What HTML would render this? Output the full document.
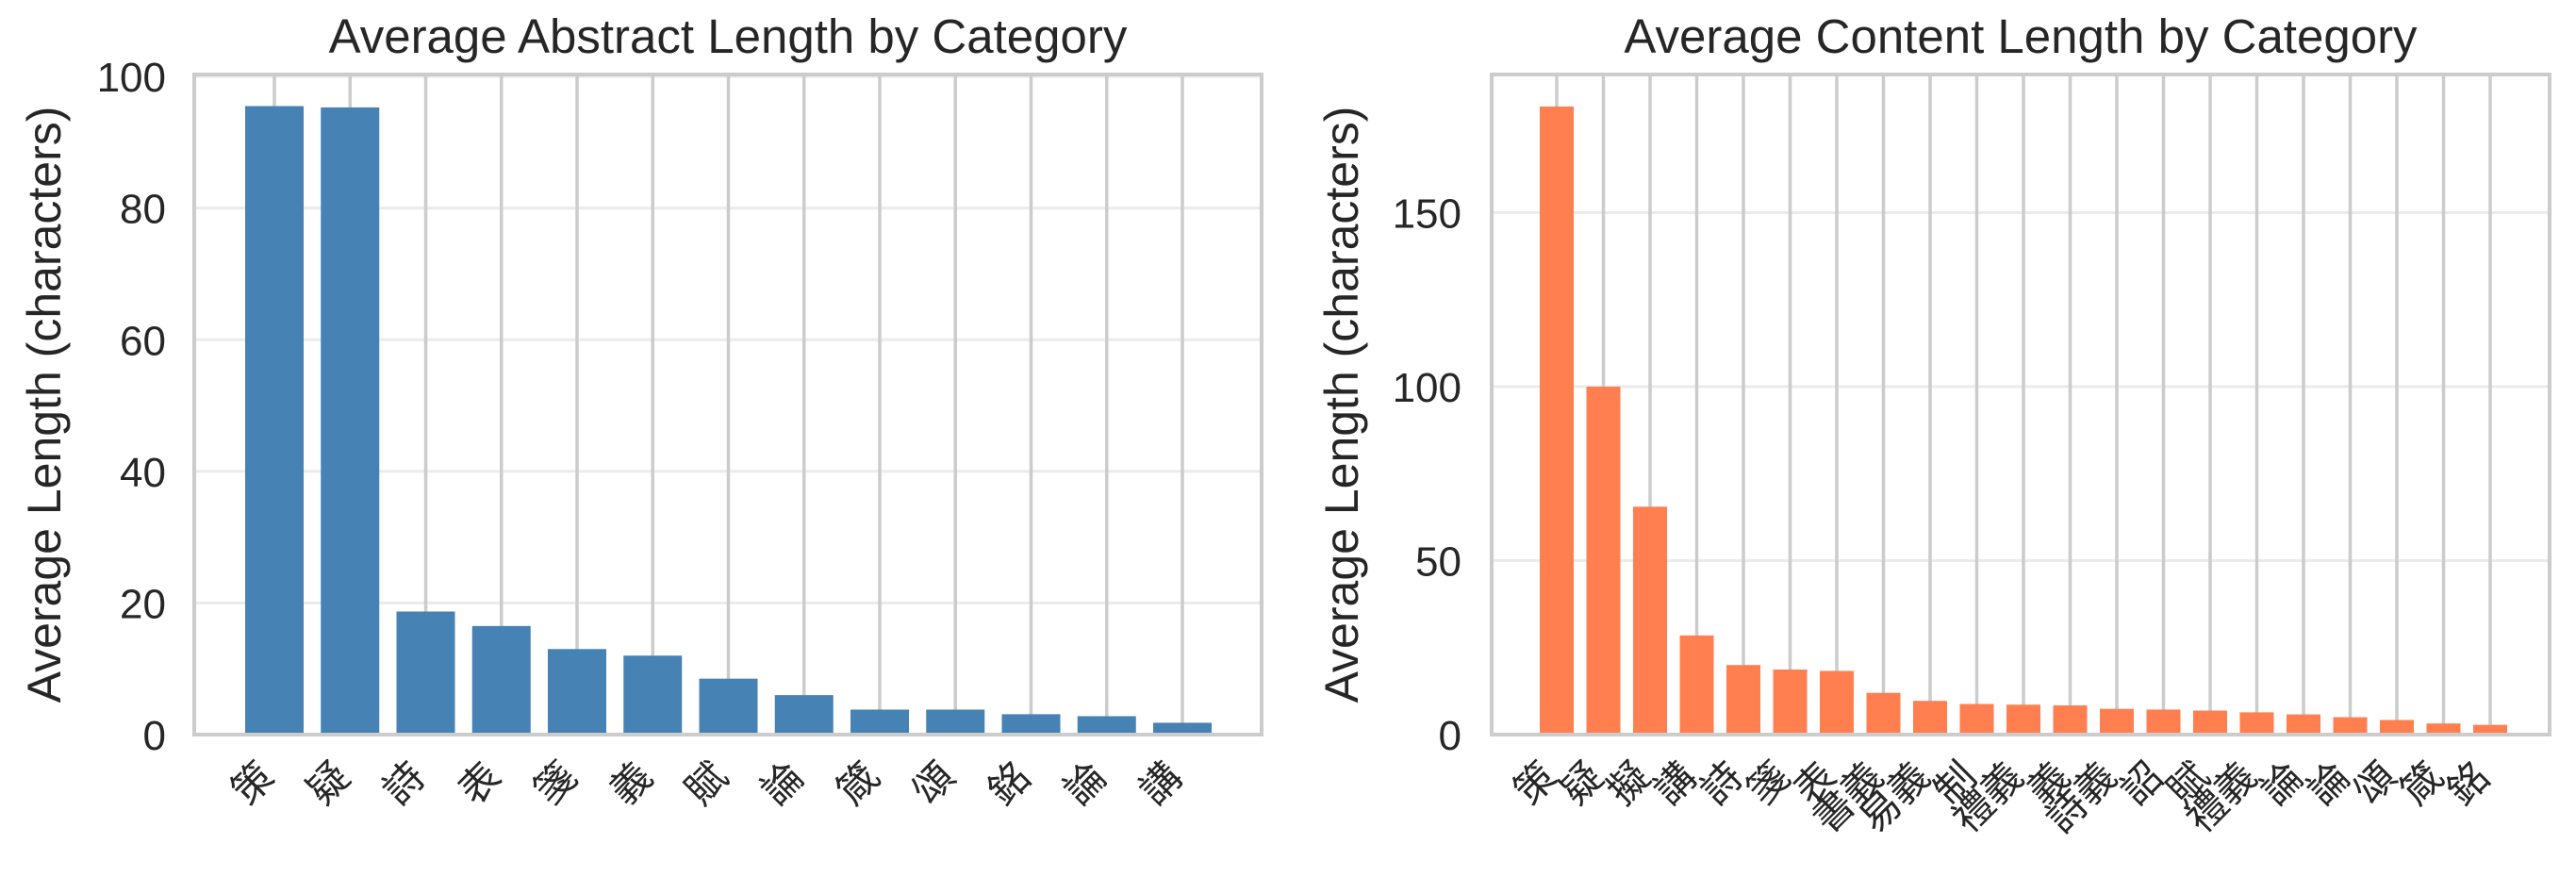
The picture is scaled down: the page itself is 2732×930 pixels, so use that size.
<!DOCTYPE html>
<html><head><meta charset="utf-8">
<style>
html,body{margin:0;padding:0;background:#fff;}
svg{display:block;font-family:"Liberation Sans","Noto Sans CJK TC",sans-serif;}
</style></head>
<body>
<svg id="chart" width="2732" height="930" viewBox="0 0 2732 930" xmlns="http://www.w3.org/2000/svg"></svg>
<script>
const leftCategories = ["策","疑","詩","表","箋","義","賦","論","箴","頌","銘","論","講"];
const leftValues = [95.5,95.3,18.7,16.5,13.0,12.0,8.5,6.0,3.8,3.8,3.1,2.8,1.8];
const leftTicks = [0,20,40,60,80,100];
const rightCategories = ["策","疑","擬","講","詩","箋","表","書義","易義","制","禮義","義","詩義","詔","賦","禮義","論","論","頌","箴","銘"];
const rightValues = [180.5,100,65.5,28.5,20,18.7,18.3,12,9.7,8.8,8.6,8.4,7.4,7.2,6.9,6.4,5.8,5.0,4.2,3.2,2.8];
const rightTicks = [0,50,100,150];

const NS="http://www.w3.org/2000/svg";
const svg=document.getElementById('chart');
function mk(tag,attrs,parent){const e=document.createElementNS(NS,tag);for(const k in attrs)e.setAttribute(k,attrs[k]);(parent||svg).appendChild(e);return e;}

function drawPanel(cfg){
  const g=mk('g',{});
  
  
  const {x0,x1,y0,y1,ymax,cats,vals,ticks,color,firstC,lastC,barW}=cfg;
  const n=cats.length;
  const step=(lastC-firstC)/(n-1);
  const xs=i=>firstC+i*step;
  const ys=v=>y1-(v/ymax)*(y1-y0);
  ticks.forEach(t=>{
    const y=ys(t);
    const l=mk('line',{x1:x0,x2:x1,y1:y,y2:y,stroke:'#ebebeb','stroke-width':3},g);
    
    
    const tx=mk('text',{x:cfg.tickX,y:y+16,'text-anchor':'end','font-size':44,fill:'#262626'},g);
    tx.textContent=t;
    
    
  });
  cats.forEach((c,i)=>{
    const l=mk('line',{x1:xs(i),x2:xs(i),y1:y0,y2:y1,stroke:'#cccccc','stroke-width':3.5},g);
    
    
  });
  vals.forEach((v,i)=>{
    const r=mk('rect',{x:xs(i)-barW/2,y:ys(v),width:barW,height:y1-ys(v),fill:color},g);
    
    
  });
  const sp=mk('rect',{x:x0,y:y0,width:x1-x0,height:y1-y0,fill:'none',stroke:'#cccccc','stroke-width':4},g);
  
  
  cats.forEach((c,i)=>{
    const cx=xs(i)+2, cy=826;
    const t=mk('text',{x:cx,y:cy,'text-anchor':'end','font-size':42,fill:'#262626',transform:`rotate(-45 ${cx} ${cy})`},g);
    t.textContent=c;
    
    
  });
  const ti=mk('text',{x:(x0+x1)/2,y:56,'text-anchor':'middle','font-size':51,fill:'#262626'},g);
  ti.textContent=cfg.title;
  
  
  const yl=mk('text',{x:cfg.ylX,y:(y0+y1)/2,'text-anchor':'middle','font-size':50,fill:'#262626',transform:`rotate(-90 ${cfg.ylX} ${(y0+y1)/2})`},g);
  yl.textContent='Average Length (characters)';
  
  
}

drawPanel({name:'abstract-length-panel',x0:206,x1:1338,y0:79,y1:779,ymax:100.3,cats:leftCategories,vals:leftValues,ticks:leftTicks,color:'#4682B4',firstC:291,lastC:1254,barW:62,tickX:176,ylX:64,title:'Average Abstract Length by Category'});
drawPanel({name:'content-length-panel',x0:1582,x1:2704,y0:79,y1:779,ymax:189.7,cats:rightCategories,vals:rightValues,ticks:rightTicks,color:'#FF7F50',firstC:1651,lastC:2641,barW:36,tickX:1550,ylX:1440,title:'Average Content Length by Category'});
</script>
</body></html>
